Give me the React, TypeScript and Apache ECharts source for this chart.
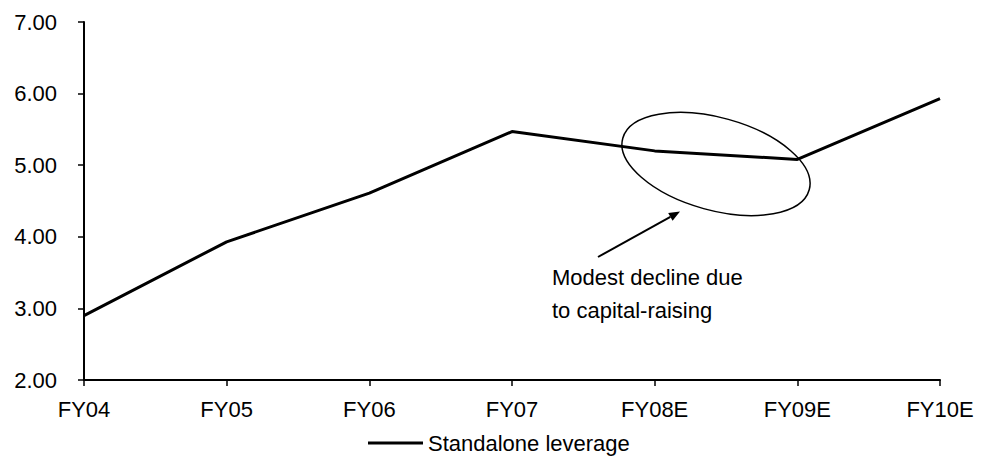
import React, { useEffect, useRef } from "react";
import * as echarts from "echarts";

const categories = ["FY04", "FY05", "FY06", "FY07", "FY08E", "FY09E", "FY10E"];
const leverage = [2.9, 3.93, 4.61, 5.47, 5.2, 5.08, 5.93];
const seriesName = "Standalone leverage";
const annotationText = "Modest decline due\nto capital-raising";
const yMin = 2;
const yMax = 7;
const yInterval = 1;

const FONT = "'Liberation Sans', Arial, sans-serif";
const FS = 22;

export default function App() {
  const ref = useRef<HTMLDivElement>(null);
  useEffect(() => {
    if (!ref.current) return;
    const chart = echarts.init(ref.current, undefined, { renderer: "svg" });
    // arrow geometry
    const tail = [598, 257];
    const tip = [680, 211.5];
    const dx = tip[0] - tail[0];
    const dy = tip[1] - tail[1];
    const len = Math.sqrt(dx * dx + dy * dy);
    const ux = dx / len;
    const uy = dy / len;
    const headLen = 11;
    const headHalf = 4.5;
    const bx = tip[0] - ux * headLen;
    const by = tip[1] - uy * headLen;
    const px = -uy;
    const py = ux;
    chart.setOption({
      animation: false,
      backgroundColor: "#ffffff",
      textStyle: { fontFamily: FONT, color: "#000" },
      grid: { left: 84, right: 50, top: 22, bottom: 76, containLabel: false },
      legend: {
        data: [seriesName],
        left: 363,
        top: 427,
        icon: "rect",
        itemWidth: 55,
        itemHeight: 3,
        itemStyle: { color: "#000" },
        textStyle: { fontFamily: FONT, fontSize: FS, color: "#000" },
      },
      xAxis: {
        type: "category",
        data: categories,
        boundaryGap: false,
        axisLine: { lineStyle: { color: "#000", width: 2 } },
        axisTick: { show: true, length: 6, lineStyle: { color: "#000", width: 1.5 } },
        axisLabel: { color: "#000", fontFamily: FONT, fontSize: FS, margin: 18 },
        splitLine: { show: false },
      },
      yAxis: {
        type: "value",
        min: yMin,
        max: yMax,
        interval: yInterval,
        axisLine: { show: true, lineStyle: { color: "#000", width: 2 } },
        axisTick: { show: true, length: 6, lineStyle: { color: "#000", width: 1.5 } },
        axisLabel: {
          color: "#000",
          fontFamily: FONT,
          fontSize: FS,
          margin: 27,
          formatter: (v: number) => v.toFixed(2),
        },
        splitLine: { show: false },
      },
      series: [
        {
          name: seriesName,
          type: "line",
          data: leverage,
          showSymbol: false,
          symbol: "none",
          lineStyle: { color: "#000", width: 3 },
          itemStyle: { color: "#000" },
        },
      ],
      graphic: [
        {
          type: "ellipse",
          x: 716,
          y: 164,
          rotation: -15.5 * Math.PI / 180,
          shape: { cx: 0, cy: 0, rx: 96.7, ry: 46.3 },
          style: { fill: "none", stroke: "#000", lineWidth: 1.5 },
          z: 10,
        },
        {
          type: "line",
          shape: { x1: tail[0], y1: tail[1], x2: bx, y2: by },
          style: { stroke: "#000", lineWidth: 2 },
          z: 10,
        },
        {
          type: "polygon",
          shape: {
            points: [
              [tip[0], tip[1]],
              [bx + px * headHalf, by + py * headHalf],
              [bx - px * headHalf, by - py * headHalf],
            ],
          },
          style: { fill: "#000" },
          z: 10,
        },
        {
          type: "text",
          x: 552,
          y: 261,
          style: {
            text: annotationText,
            font: `${FS}px ${FONT}`,
            fill: "#000",
            lineHeight: 33,
          },
          z: 10,
        },
      ],
    });
    return () => chart.dispose();
  }, []);
  return (
    <div
      ref={ref}
      style={{ position: "absolute", left: 0, top: 0, width: 990, height: 456 }}
    />
  );
}
